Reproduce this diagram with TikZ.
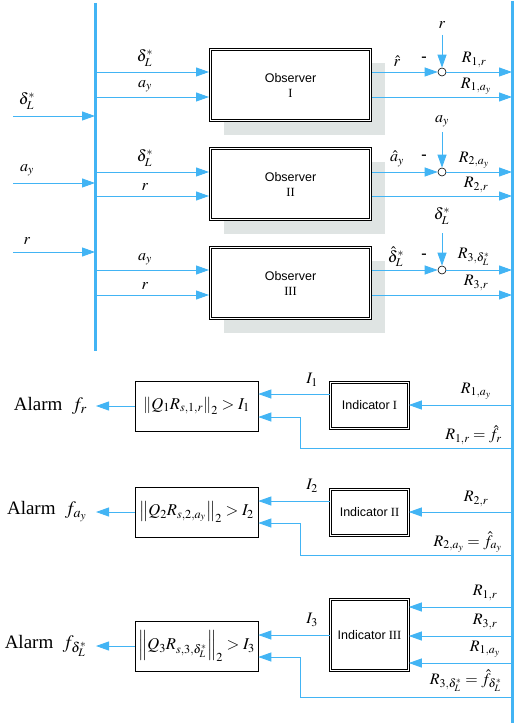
\documentclass[tikz,border=0pt]{standalone}
\usepackage{mathptmx}
\usepackage{fontspec}
\setmainfont{Liberation Serif}
\newfontfamily\sansf{Liberation Sans}
\usetikzlibrary{arrows.meta,backgrounds}
\definecolor{bl}{RGB}{66,180,244}
\definecolor{shd}{RGB}{223,228,227}
\begin{document}
\begin{tikzpicture}[x=1pt,y=-1pt,
  arr/.style={draw=bl,line width=0.9pt,-{Triangle[length=13pt,width=9pt]}},
  ln/.style={draw=bl,line width=0.9pt},
  bus/.style={draw=bl,line width=3pt},
  dbox/.style={draw,double,double distance=1.4pt,line width=0.6pt,fill=white,inner sep=0pt,align=center},
  obsbox/.style={dbox,minimum width=160pt,minimum height=71pt,font=\fontsize{12.5}{15}\selectfont},
  indbox/.style={dbox,minimum width=78pt,font=\fontsize{12.5}{15}\selectfont},
  normbox/.style={draw,line width=0.6pt,fill=white,minimum width=123pt,minimum height=50pt,inner sep=0pt,font=\fontsize{16.5}{18}\selectfont},
  lab/.style={inner sep=0pt,font=\fontsize{16}{18}\selectfont},
  sumc/.style={circle,draw,line width=0.6pt,fill=white,inner sep=0pt,minimum size=8pt},
  alarm/.style={inner sep=0pt,anchor=east,font=\fontsize{19}{21}\selectfont},
  shadow/.style={fill=shd}]
\useasboundingbox (0,0) rectangle (519,727);

% buses
\coordinate (lbT) at (95,3);
\coordinate (lbB) at (95,351);
\coordinate (rbT) at (512,1);
\coordinate (rbB) at (512,723);
\draw[bus] (lbT) -- (lbB);
\draw[bus] (rbT) -- (rbB);

% observers
\node[obsbox] (obs1) at (290.5,85) {{\sansf Observer}\\I};
\node[obsbox] (obs2) at (290.5,184) {{\sansf Observer}\\II};
\node[obsbox] (obs3) at (290.5,283) {{\sansf Observer}\\III};
\begin{scope}[on background layer]
\foreach \o in {obs1,obs2,obs3}
  \fill[shadow] ([shift={(14,14)}]\o.south west) rectangle ([shift={(14,14)}]\o.north east);
\end{scope}

% inputs
\coordinate (in1) at (13,116);
\coordinate (in2) at (13,183);
\coordinate (in3) at (13,252);
\draw[arr] (in1) -- (95,116);
\draw[arr] (in2) -- (95,183);
\draw[arr] (in3) -- (95,252);
\node[lab] (li1) at (27,101) {$\delta_L^{*}$};
\node[lab] (li2) at (27,170) {$a_y$};
\node[lab] (li3) at (27,241) {$r$};

% bus to observers
\draw[arr] (95,72) -- (209,72);
\draw[arr] (95,97) -- (209,97);
\draw[arr] (95,172) -- (209,172);
\draw[arr] (95,196) -- (209,196);
\draw[arr] (95,270) -- (209,270);
\draw[arr] (95,295) -- (209,295);
\node[lab] (lo1a) at (145,58) {$\delta_L^{*}$};
\node[lab] (lo1b) at (145,86) {$a_y$};
\node[lab] (lo2a) at (145,158) {$\delta_L^{*}$};
\node[lab] (lo2b) at (145,187) {$r$};
\node[lab] (lo3a) at (145,259) {$a_y$};
\node[lab] (lo3b) at (145,286) {$r$};

% sum junctions
\node[sumc] (s1) at (442,72) {};
\node[sumc] (s2) at (442,172) {};
\node[sumc] (s3) at (442,270) {};
\coordinate (t1) at (442,35);
\coordinate (t2) at (442,132);
\coordinate (t3) at (442,233);
\draw[arr] (372,72) -- (s1.west);
\draw[arr] (372,172) -- (s2.west);
\draw[arr] (372,270) -- (s3.west);
\draw[arr] (t1) -- (s1.north);
\draw[arr] (t2) -- (s2.north);
\draw[arr] (t3) -- (s3.north);
\draw[arr] (s1.east) -- (512,72);
\draw[arr] (s2.east) -- (512,172);
\draw[arr] (s3.east) -- (512,270);
\draw[arr] (372,97) -- (512,97);
\draw[arr] (372,196) -- (512,196);
\draw[arr] (372,295) -- (512,295);

\node[lab] (h1) at (397,61) {$\hat{r}$};
\node[lab] (h2) at (397,159) {$\hat{a}_y$};
\node[lab] (h3) at (396,257) {$\hat{\delta}_L^{*}$};
\node[lab] (m1) at (424,59) {\textbf{-}};
\node[lab] (m2) at (424,157) {\textbf{-}};
\node[lab] (m3) at (424,256) {\textbf{-}};
\node[lab] (ts1) at (442,25) {$r$};
\node[lab] (ts2) at (442,121) {$a_y$};
\node[lab] (ts3) at (442,216) {$\delta_L^{*}$};
\node[lab] (r1r) at (474,60) {$R_{1,r}$};
\node[lab] (r1a) at (476,86) {$R_{1,a_y}$};
\node[lab] (r2a) at (474,160) {$R_{2,a_y}$};
\node[lab] (r2r) at (476,185) {$R_{2,r}$};
\node[lab] (r3d) at (474,257) {$R_{3,\delta_L^{*}}$};
\node[lab] (r3r) at (476,283) {$R_{3,r}$};

% indicators
\node[indbox,minimum height=46pt] (ind1) at (369.5,405.5) {{\sansf Indicator} I};
\node[indbox,minimum height=46pt] (ind2) at (369.5,512.5) {{\sansf Indicator} II};
\node[indbox,minimum height=71pt] (ind3) at (369.5,635) {{\sansf Indicator} III};

% norm boxes
\node[normbox] (n1) at (196.5,406) {$\left\|Q_1R_{s,1,r}\right\|_2>I_1$};
\node[normbox] (n2) at (196.5,512) {$\left\|Q_2R_{s,2,a_y}\right\|_2>I_2$};
\node[normbox] (n3) at (196.5,646) {$\left\|Q_3R_{s,3,\delta_L^{*}}\right\|_2>I_3$};

% alarms
\node[alarm] (a1) at (87,406) {Alarm\ \ $f_r$};
\node[alarm] (a2) at (87,512) {Alarm\ \ $f_{a_y}$};
\node[alarm] (a3) at (87,646) {Alarm\ \ $f_{\delta_L^{*}}$};
\draw[arr] (n1.west) -- (96,406);
\draw[arr] (n2.west) -- (96,512);
\draw[arr] (n3.west) -- (96,646);

% bus to indicators
\draw[arr] (512,405) -- (ind1.east |- 0,405);
\draw[arr] (512,512) -- (ind2.east |- 0,512);
\draw[arr] (512,607) -- (ind3.east |- 0,607);
\draw[arr] (512,636) -- (ind3.east |- 0,636);
\draw[arr] (512,663) -- (ind3.east |- 0,663);

% indicator to norm boxes
\draw[arr] (ind1.west |- 0,394) -- (n1.east |- 0,394);
\draw[arr] (ind2.west |- 0,501) -- (n2.east |- 0,501);
\draw[arr] (ind3.west |- 0,635) -- (n3.east |- 0,635);
\node[lab] (i1) at (312,380) {$I_1$};
\node[lab] (i2) at (312,486) {$I_2$};
\node[lab] (i3) at (312,620) {$I_3$};

% feedback residuals
\draw[arr] (512,448) -- (300,448) -- (300,417) -- (n1.east |- 0,417);
\draw[arr] (512,555) -- (300,555) -- (300,523) -- (n2.east |- 0,523);
\draw[arr] (512,697) -- (300,697) -- (300,657) -- (n3.east |- 0,657);

\node[lab] (b1) at (476,391) {$R_{1,a_y}$};
\node[lab,anchor=east] (b2) at (502,435) {$R_{1,r}=\hat{f}_r$};
\node[lab] (b3) at (476,499) {$R_{2,r}$};
\node[lab,anchor=east] (b4) at (502,542) {$R_{2,a_y}=\hat{f}_{a_y}$};
\node[lab] (b5) at (485,593) {$R_{1,r}$};
\node[lab] (b6) at (485,622) {$R_{3,r}$};
\node[lab] (b7) at (485,649) {$R_{1,a_y}$};
\node[lab,anchor=east] (b8) at (502,681) {$R_{3,\delta_L^{*}}=\hat{f}_{\delta_L^{*}}$};
\end{tikzpicture}
\end{document}
